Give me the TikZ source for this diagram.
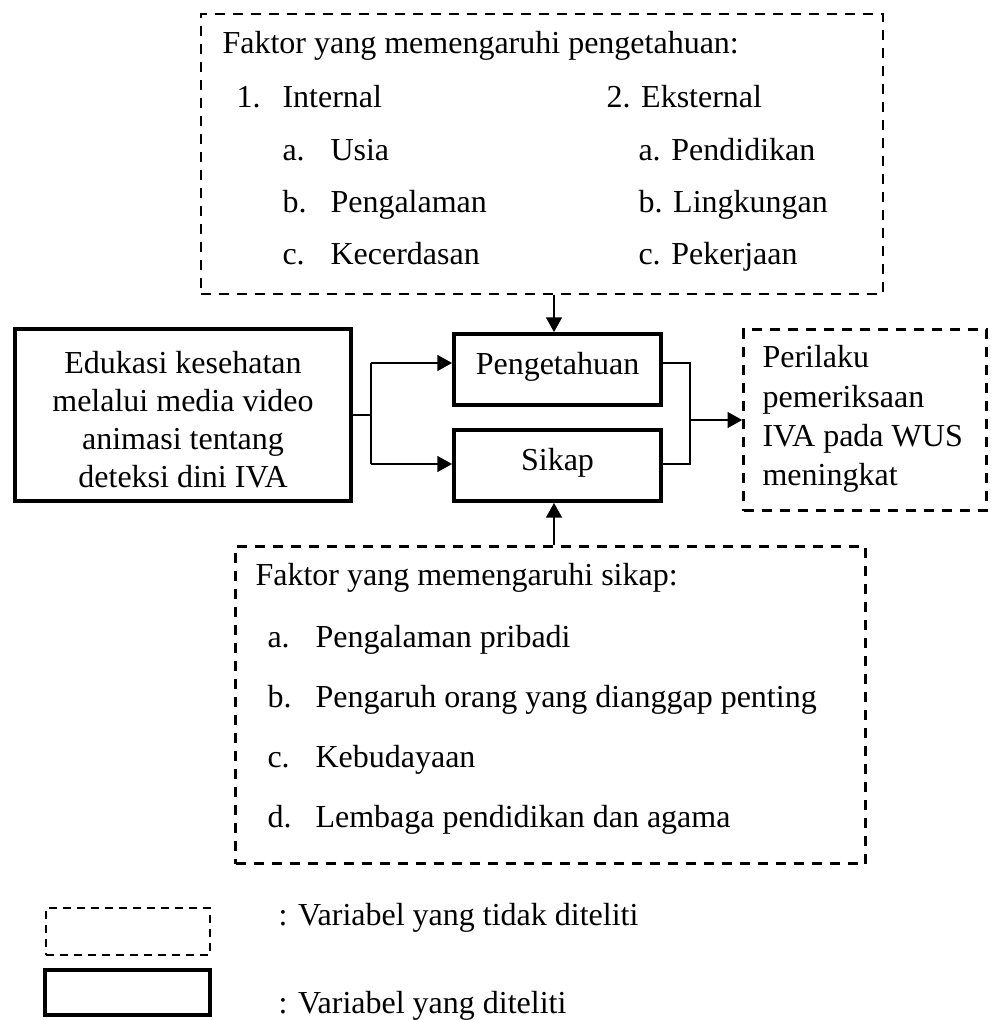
\documentclass[tikz,border=0pt]{standalone}
\usepackage{fontspec}
\setmainfont{Liberation Serif}
\usetikzlibrary{arrows.meta}
\begin{document}
\begin{tikzpicture}[x=0.375pt,y=-0.375pt,font=\fontsize{12}{14.4}\selectfont,
  solidbox/.style={draw, line width=1.5pt, inner sep=0pt},
  dashbox/.style={draw, line width=1pt, dash pattern=on 3.75pt off 3pt, inner sep=0pt},
  keybox/.style={draw, line width=0.65pt, dash pattern=on 3pt off 2.25pt, inner sep=0pt},
  varbox/.style={solidbox, minimum width=77.6pt, minimum height=26.6pt, text height=0.72em, text depth=0.38em},
  txt/.style={anchor=base west, inner sep=0pt},
  ctxt/.style={anchor=base, inner sep=0pt},
  link/.style={line width=0.5pt},
  arr/.style={line width=0.5pt, -{Triangle[length=5.5pt,width=6pt]}}]
\useasboundingbox (0,0) rectangle (992,1020);
\node[dashbox, minimum width=255.75pt, minimum height=105pt] (topf) at (542,154){};
\node[solidbox, minimum width=126pt, minimum height=64.5pt] (edu) at (183,415){};
\node[varbox] (peng) at (557.5,369.5){Pengetahuan};
\node[varbox] (sikap) at (557.5,465.5){Sikap};
\node[dashbox, minimum width=91.1pt, minimum height=67.9pt] (out) at (865,420){};
\node[dashbox, minimum width=236.25pt, minimum height=118.9pt] (botf) at (550.5,705){};
\node[keybox, minimum width=61.5pt, minimum height=17.6pt] (keyd) at (128,931.5){};
\node[solidbox, minimum width=61.9pt, minimum height=16.9pt] (keys) at (127.5,992.5){};
\node[txt] (tf0) at (222,54){Faktor yang memengaruhi pengetahuan:};
\node[txt] (tn1) at (236,108){1.};
\node[txt] (ti1) at (282,108){Internal};
\node[txt] (tn1a) at (282,160){a.};
\node[txt] (ti1a) at (330,160){Usia};
\node[txt] (tn1b) at (282,212){b.};
\node[txt] (ti1b) at (330,212){Pengalaman};
\node[txt] (tn1c) at (282,264){c.};
\node[txt] (ti1c) at (330,264){Kecerdasan};
\node[txt] (ti2) at (606,108){2. Eksternal};
\node[txt] (ti2a) at (638,160){a. Pendidikan};
\node[txt] (ti2b) at (638,212){b. Lingkungan};
\node[txt] (ti2c) at (638,264){c. Pekerjaan};
\node[ctxt] (edu1) at (183,373){Edukasi kesehatan};
\node[ctxt] (edu2) at (183,411){melalui media video};
\node[ctxt] (edu3) at (183,449){animasi tentang};
\node[ctxt] (edu4) at (183,487){deteksi dini IVA};
\node[txt] (out1) at (762,367){Perilaku};
\node[txt] (out2) at (762,407){pemeriksaan};
\node[txt] (out3) at (762,446){IVA pada WUS};
\node[txt] (out4) at (762,485){meningkat};
\node[txt] (bf0) at (255,585){Faktor yang memengaruhi sikap:};
\node[txt] (bna) at (267,647){a.};
\node[txt] (bia) at (315,647){Pengalaman pribadi};
\node[txt] (bnb) at (267,707){b.};
\node[txt] (bib) at (315,707){Pengaruh orang yang dianggap penting};
\node[txt] (bnc) at (267,767){c.};
\node[txt] (bic) at (315,767){Kebudayaan};
\node[txt] (bnd) at (267,827){d.};
\node[txt] (bid) at (315,827){Lembaga pendidikan dan agama};
\node[txt] (keyd1) at (278,925){: Variabel yang tidak diteliti};
\node[txt] (keys1) at (278,1013){: Variabel yang diteliti};
\coordinate (jlt) at (371,363);
\coordinate (jlb) at (371,464);
\coordinate (jrt) at (690,363);
\coordinate (jrb) at (690,464);
\coordinate (jt) at (554,0);
\draw[link](edu.east) -- (edu.east -| jlt);
\draw[link](jlt) -- (jlb);
\draw[arr](jlt) -- (jlt -| peng.west);
\draw[arr](jlb) -- (jlb -| sikap.west);
\draw[link](jrt -| peng.east) -- (jrt) -- (jrb) -- (jrb -| sikap.east);
\draw[arr](jrt |- out.west) -- (out.west);
\draw[arr](topf.south -| jt) -- (peng.north -| jt);
\draw[arr](botf.north -| jt) -- (sikap.south -| jt);
\end{tikzpicture}
\end{document}
